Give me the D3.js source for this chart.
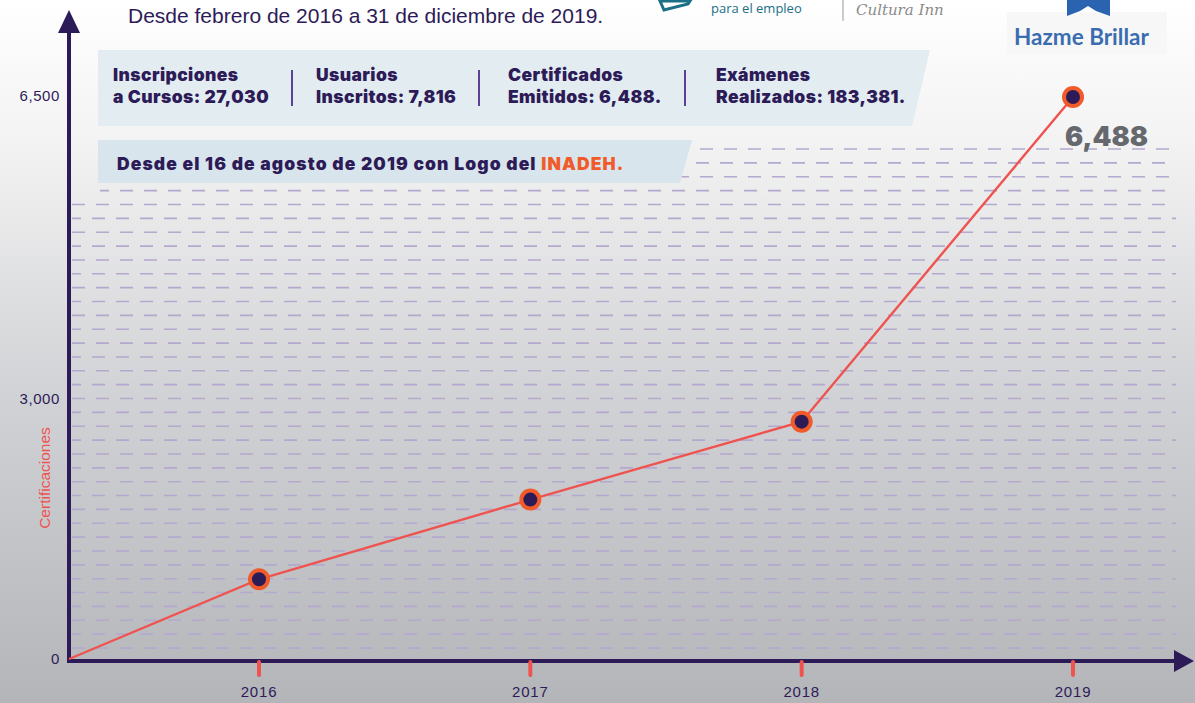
<!DOCTYPE html>
<html>
<head>
<meta charset="utf-8">
<script src="https://cdn.jsdelivr.net/npm/d3@7"></script>
<style>
  html, body { margin: 0; padding: 0; overflow: hidden; background: #ffffff; }
  svg { display: block; }
</style>
</head>
<body>
<svg id="chart" width="1195" height="703"></svg>
<script>
// ---- Data ----
const years = [2016, 2017, 2018, 2019];
const certificaciones = [920, 1840, 2740, 6488];
const yTickValues = [0, 3000, 6500];
const yTickLabels = ["0", "3,000", "6,500"];
const statTitles = ["Inscripciones", "Usuarios", "Certificados", "Exámenes"];
const statValues = ["a Cursos: 27,030", "Inscritos: 7,816", "Emitidos: 6,488.", "Realizados: 183,381."];
const subtitle = "Desde febrero de 2016 a 31 de diciembre de 2019.";
const noteText = "Desde el 16 de agosto de 2019 con Logo del ";
const noteBrand = "INADEH.";
const yTitle = "Certificaciones";

// ---- Palette ----
const C = {
  axis: "#2d1b58",
  ink: "#2d1b58",
  red: "#ef5350",
  orange: "#f15a29",
  grid: "#b4a8cf",
  panel: "#e2ecf1",
  panel2: "#d9e5ec",
  gray: "#65686d"
};

const svg = d3.select("#chart");
const W = 1195, H = 703;

// ---- Background gradient ----
const defs = svg.append("defs");
const bg = defs.append("linearGradient").attr("id", "bg").attr("x1", 0).attr("y1", 0).attr("x2", 0).attr("y2", 1);
bg.append("stop").attr("offset", "0").attr("stop-color", "#ffffff");
bg.append("stop").attr("offset", "0.2").attr("stop-color", "#f3f3f3");
bg.append("stop").attr("offset", "0.55").attr("stop-color", "#d2d3d6");
bg.append("stop").attr("offset", "1").attr("stop-color", "#b4b5b9");
svg.append("rect").attr("width", W).attr("height", H).attr("fill", "url(#bg)");

// ---- Scales ----
const origin = { x: 69, y: 659 };
const x = d3.scaleLinear().domain([2016, 2019]).range([259, 1073]);
const y = d3.scaleLinear().domain([0, 6488]).range([origin.y, 97]);
const xStart = x.invert(origin.x);

// ---- Dashed grid ----
const gridValues = d3.range(127, 5900, 160);
svg.append("g").selectAll("line").data(gridValues).join("line")
  .attr("x1", d => y(d) < 197 ? 100 : origin.x + 3)
  .attr("x2", 1176)
  .attr("y1", d => y(d)).attr("y2", d => y(d))
  .attr("stroke", C.grid).attr("stroke-width", 1.6)
  .attr("stroke-dasharray", "13 11")
  .attr("stroke-dashoffset", (d, i) => i % 2 ? 4 : 0);

// ---- Info panels ----
svg.append("path")
  .attr("d", "M98,50 L930,50 L912,126 L98,126 Z")
  .attr("fill", C.panel);
svg.append("path")
  .attr("d", "M98,140 L692,140 L680,183 L98,183 Z")
  .attr("fill", C.panel2);

const statX = [113, 316, 508, 716];
const sepX = [292, 479, 685];
const heavy = "Inter, 'Open Sans', sans-serif";
const stats = svg.append("g").attr("font-family", heavy).attr("font-weight", 900)
  .attr("font-size", 17.5).attr("letter-spacing", 0.4).attr("fill", C.ink);
stats.selectAll("text.t").data(statTitles).join("text").attr("class", "t")
  .attr("x", (d, i) => statX[i]).attr("y", 81).text(d => d);
stats.selectAll("text.v").data(statValues).join("text").attr("class", "v")
  .attr("x", (d, i) => statX[i]).attr("y", 103).text(d => d);
svg.append("g").selectAll("line").data(sepX).join("line")
  .attr("x1", d => d).attr("x2", d => d).attr("y1", 70).attr("y2", 106)
  .attr("stroke", "#5e3f98").attr("stroke-width", 2);

const note = svg.append("text").attr("x", 117).attr("y", 170)
  .attr("font-family", heavy).attr("font-weight", 900).attr("font-size", 17.5)
  .attr("letter-spacing", 1.1).attr("fill", C.ink);
note.append("tspan").text(noteText);
note.append("tspan").attr("fill", C.orange).text(noteBrand);

// ---- Subtitle ----
svg.append("text").attr("x", 128).attr("y", 23)
  .attr("font-family", "'Liberation Sans', Arial, sans-serif").attr("font-size", 21)
  .attr("fill", C.ink).text(subtitle);

// ---- Logos along the top edge ----
const logos = svg.append("g");
logos.append("path").attr("d", "M660,1 L664,10 L688,4 L690,1 Z").attr("fill", "none")
  .attr("stroke", "#1b6f86").attr("stroke-width", 3);
logos.append("text").attr("x", 711).attr("y", 13).attr("font-family", "'Open Sans', sans-serif")
  .attr("font-size", 13).attr("fill", "#1b6f86").text("para el empleo");
logos.append("line").attr("x1", 843).attr("x2", 843).attr("y1", 0).attr("y2", 21)
  .attr("stroke", "#9a9a9a").attr("stroke-width", 1);
logos.append("text").attr("x", 856).attr("y", 15).attr("font-family", "'DejaVu Serif', serif")
  .attr("font-style", "italic").attr("font-size", 15).attr("fill", "#8a8a8a").text("Cultura Inn");
logos.append("rect").attr("x", 1007).attr("y", 12).attr("width", 160).attr("height", 42).attr("fill", "#f7f7f7");
logos.append("path").attr("d", "M1067,0 L1110,0 L1110,16 L1096,11 L1088,6 L1080,11 L1067,16 Z").attr("fill", "#2a63b0");
logos.append("text").attr("x", 1014).attr("y", 45).attr("font-family", "Lato, 'Open Sans', sans-serif")
  .attr("font-weight", 700).attr("font-size", 22.5).attr("fill", "#3a6db0").text("Hazme Brillar");

// ---- Axes ----
const axes = svg.append("g").attr("fill", C.axis).attr("stroke", C.axis);
axes.append("line").attr("x1", origin.x).attr("x2", origin.x).attr("y1", origin.y + 2).attr("y2", 30)
  .attr("stroke-width", 4);
axes.append("path").attr("d", `M${origin.x},10 L${origin.x - 11},33 L${origin.x + 11},33 Z`).attr("stroke", "none");
axes.append("line").attr("x1", origin.x - 2).attr("x2", 1176).attr("y1", origin.y + 2).attr("y2", origin.y + 2)
  .attr("stroke-width", 4);
axes.append("path").attr("d", `M1194,${origin.y + 2} L1174,${origin.y - 9} L1174,${origin.y + 13} Z`).attr("stroke", "none");

// Y tick labels
const tickFont = "'Liberation Sans', Arial, sans-serif";
svg.append("g").selectAll("text").data(yTickValues).join("text")
  .attr("x", 60).attr("y", d => y(d) + 5).attr("text-anchor", "end")
  .attr("font-family", tickFont).attr("font-size", 15).attr("letter-spacing", 0.6)
  .attr("fill", C.ink).text((d, i) => yTickLabels[i]);

svg.append("text").attr("transform", `translate(50,${478}) rotate(-90)`)
  .attr("text-anchor", "middle").attr("font-family", tickFont)
  .attr("font-size", 15.5).attr("fill", C.red).text(yTitle);

// X ticks
const xt = svg.append("g");
xt.selectAll("line").data(years).join("line")
  .attr("x1", d => x(d)).attr("x2", d => x(d)).attr("y1", origin.y + 3).attr("y2", origin.y + 16)
  .attr("stroke", C.red).attr("stroke-width", 4).attr("stroke-linecap", "round");
xt.selectAll("text").data(years).join("text")
  .attr("x", d => x(d)).attr("y", 697).attr("text-anchor", "middle")
  .attr("font-family", tickFont).attr("font-size", 15).attr("letter-spacing", 0.8)
  .attr("fill", C.ink).text(d => d);

// ---- Line + points ----
const pts = [[xStart, 0]].concat(years.map((yr, i) => [yr, certificaciones[i]]));
svg.append("path").datum(pts)
  .attr("d", d3.line().x(d => x(d[0])).y(d => y(d[1])))
  .attr("fill", "none").attr("stroke", C.red).attr("stroke-width", 2.4);

const dots = svg.append("g").selectAll("g").data(years).join("g")
  .attr("transform", (d, i) => `translate(${x(d)},${y(certificaciones[i])})`);
dots.append("circle").attr("r", 11).attr("fill", C.orange);
dots.append("circle").attr("r", 7).attr("fill", C.axis);

// Value label on the last point
const last = years.length - 1;
svg.append("text").attr("x", x(years[last]) - 8).attr("y", y(certificaciones[last]) + 49)
  .attr("font-family", heavy).attr("font-weight", 900).attr("font-size", 27)
  .attr("fill", C.gray).text(d3.format(",")(certificaciones[last]));
</script>
</body>
</html>
